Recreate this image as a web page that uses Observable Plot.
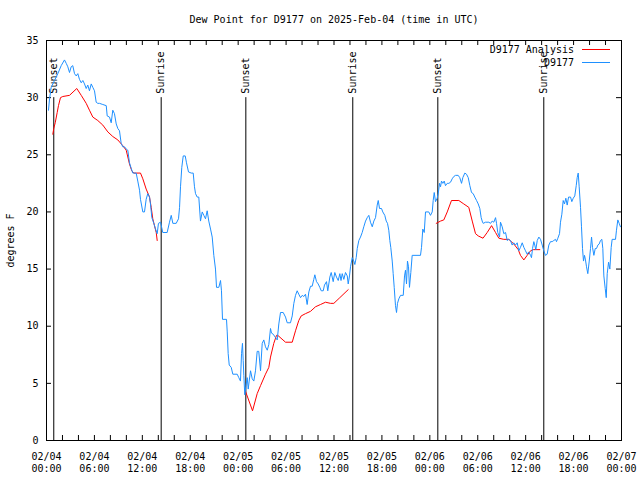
<!DOCTYPE html>
<html><head><meta charset="utf-8">
<script src="https://cdn.jsdelivr.net/npm/d3@7"></script>
<script src="https://cdn.jsdelivr.net/npm/@observablehq/plot@0.6"></script>
<style>body{margin:0;background:#fff}</style>
</head><body><div id="chart"></div>
<script>
// ---- data ----
const chartTitle = "Dew Point for D9177 on 2025-Feb-04 (time in UTC)";
const yLabel = "degrees F";
const seriesNames = ["D9177 Analysis", "D9177"];
const startUTC = Date.UTC(2025, 1, 4, 0, 0);
const spanHours = 72;
const yTickValues = [0, 5, 10, 15, 20, 25, 30, 35];
const sunHours = [0.91, 14.36, 24.96, 38.35, 49.00, 62.27];
const sunLabels = ["Sunset", "Sunrise", "Sunset", "Sunrise", "Sunset", "Sunrise"];
const sunLineTop = 30;

// observations (hours since 02/04 00:00 UTC, deg F)
const obsHours = [
0.25,0.38,0.59,1.00,1.42,1.84,2.25,2.47,2.67,2.88,
3.09,3.29,3.51,3.72,3.92,4.13,4.35,4.55,4.76,4.97,
5.17,5.38,5.60,5.80,6.01,6.22,6.42,6.64,7.05,7.48,
7.60,7.89,8.10,8.30,8.51,8.73,8.93,9.14,9.35,9.55,
9.77,9.98,10.18,10.39,10.61,10.81,11.23,11.43,11.65,11.77,
12.06,12.27,12.48,12.68,12.90,13.02,13.19,13.44,13.65,13.86,
14.02,14.28,14.56,15.11,15.40,15.62,15.82,16.24,16.53,16.66,
16.78,16.94,17.12,17.37,17.53,17.78,18.12,18.37,18.53,18.66,
18.87,19.07,19.28,19.50,19.70,19.91,20.12,20.32,20.54,20.75,
20.95,21.16,21.29,21.58,21.79,21.91,22.04,22.54,22.63,22.75,
22.88,23.13,23.33,23.88,24.08,24.29,24.42,24.54,24.63,24.71,
24.83,24.96,25.13,25.26,25.38,25.55,25.76,25.96,26.17,26.38,
26.58,26.80,27.01,27.21,27.42,27.64,27.84,28.05,28.17,28.39,
28.68,28.89,29.09,29.30,29.64,29.93,30.14,30.55,30.77,30.97,
31.18,31.39,31.59,31.81,32.02,32.22,32.43,32.64,32.85,33.06,
33.27,33.47,33.60,33.81,34.02,34.22,34.40,34.65,34.81,35.06,
35.22,35.48,35.65,35.90,36.10,36.31,36.53,36.73,36.88,37.03,
37.23,37.44,37.66,37.78,37.94,38.07,38.28,38.48,38.61,38.78,
38.91,39.11,39.32,39.53,39.73,39.95,40.16,40.36,40.57,40.79,
40.99,41.20,41.41,41.54,41.70,41.95,42.11,42.36,42.54,42.70,
42.86,42.99,43.11,43.29,43.41,43.54,43.70,43.83,43.95,44.12,
44.33,44.67,44.83,44.95,45.08,45.20,45.33,45.45,45.62,45.79,
46.83,46.96,47.12,47.30,47.46,47.87,48.08,48.30,48.42,48.55,
48.71,48.92,49.05,49.21,49.34,49.46,49.63,49.80,49.96,50.18,
50.38,50.59,50.80,51.00,51.22,51.55,51.75,51.97,52.13,52.38,
52.59,52.81,53.01,53.22,53.43,53.63,53.85,54.06,54.26,54.43,
54.60,54.68,54.97,55.39,55.60,55.81,56.01,56.23,56.35,56.51,
56.73,56.85,57.06,57.26,57.48,57.69,57.89,58.10,58.31,58.51,
58.73,58.94,59.14,59.35,59.57,59.77,59.98,60.19,60.39,60.61,
60.73,60.86,61.02,61.14,61.27,61.45,61.65,61.86,62.07,62.27,
62.48,62.69,62.90,63.11,63.32,63.52,63.74,63.86,64.03,64.24,
64.36,64.53,64.70,64.86,65.03,65.20,65.37,65.62,65.78,65.96,
66.15,66.33,66.45,66.58,66.70,66.87,66.99,67.12,67.24,67.37,
67.49,67.62,67.78,67.96,68.12,68.25,68.37,68.54,68.71,68.87,
69.04,69.21,69.37,69.54,69.66,69.79,69.96,70.09,70.21,70.38,
70.54,70.71,70.83,71.25,71.37,71.54,71.71,71.87];
const obsValues = [
28.9,29.9,30.9,31.5,32.1,32.8,33.3,33.0,32.7,32.2,
32.7,32.8,32.1,31.9,32.1,31.6,31.3,31.5,31.2,30.8,
31.1,30.6,31.2,30.9,30.6,29.6,29.5,29.5,29.4,29.3,
28.4,28.3,27.8,28.9,28.6,27.7,27.3,27.1,26.0,25.7,
25.7,25.5,25.4,24.3,23.8,23.4,23.4,22.7,21.9,21.1,
20.0,20.0,21.1,21.6,21.3,20.7,19.5,19.0,18.5,18.1,
19.0,19.1,18.2,18.2,19.1,19.7,19.0,19.0,19.4,20.4,
22.2,23.9,24.9,24.9,24.3,23.5,23.4,23.4,22.2,21.6,
21.3,21.3,19.2,20.0,19.7,19.4,20.1,19.2,18.5,17.8,
16.2,15.0,13.4,13.4,14.0,13.1,10.6,10.6,9.5,7.6,
6.6,6.4,5.8,5.8,5.5,5.2,7.6,8.5,7.0,5.7,
4.0,4.7,5.5,4.5,5.2,6.1,5.4,5.2,6.1,7.8,
7.8,6.1,8.5,8.8,8.2,7.9,8.4,9.8,9.4,9.3,
9.0,8.8,10.2,11.2,11.2,10.8,10.3,10.3,10.9,12.0,
12.7,13.1,12.8,12.5,12.7,12.6,12.8,11.9,13.0,13.5,
13.5,14.1,14.5,13.9,13.7,13.4,13.1,13.1,13.6,13.9,
13.1,14.3,14.7,13.9,14.7,14.3,14.0,14.6,14.0,14.6,
14.1,14.7,14.4,13.7,14.4,15.2,16.0,15.7,15.4,16.0,
16.8,17.5,17.8,18.2,18.7,19.2,19.5,19.7,19.1,18.7,
19.2,19.5,20.6,21.0,20.3,20.3,20.0,19.7,19.2,19.0,
18.4,17.5,16.9,15.7,14.6,13.4,11.8,11.2,12.0,12.4,
12.7,12.7,14.4,14.9,13.7,15.7,15.2,13.4,14.7,16.2,
16.2,16.9,18.5,18.2,20.0,20.0,19.7,20.0,21.0,21.7,
20.9,21.2,21.6,22.5,22.2,22.7,22.5,22.7,22.3,22.5,
22.5,22.6,22.9,23.1,23.2,23.2,23.0,22.5,23.0,23.4,
23.3,23.0,22.3,21.7,21.6,21.3,21.0,20.7,20.3,19.5,
19.1,19.0,19.1,19.1,19.0,19.2,19.1,19.5,19.0,18.2,
17.8,19.1,18.7,18.1,18.2,17.5,17.6,17.5,17.1,17.3,
17.1,17.3,16.6,16.9,17.3,16.9,16.6,16.3,16.5,16.2,
16.0,16.8,17.4,17.1,16.7,17.5,17.8,17.6,17.1,16.6,
16.2,16.3,17.1,17.4,17.4,17.5,17.6,17.4,17.7,18.1,
19.1,19.8,21.0,20.7,21.2,20.6,21.3,21.3,20.9,21.2,
21.4,22.3,23.0,23.4,22.2,20.4,18.7,16.8,15.7,16.2,
15.8,15.2,14.6,15.7,16.8,17.8,16.9,16.2,16.8,16.8,
17.1,17.2,17.5,17.6,16.8,14.4,13.3,12.5,14.6,15.6,
15.0,16.9,17.6,17.6,18.4,19.3,19.0,18.7];

// analysis (null = gap)
const anaHours = [
0.79,0.91,1.09,1.34,1.50,1.75,2.04,2.88,3.79,4.35,4.97,5.38,5.80,6.42,7.05,7.68,
8.30,8.93,9.55,9.98,10.39,10.68,10.93,11.77,12.06,12.48,12.90,13.11,13.31,13.52,13.74,13.86,
null,
24.92,25.80,26.38,26.80,27.42,27.84,28.05,28.46,28.80,28.96,29.93,30.77,
31.18,31.59,31.89,32.43,33.06,33.68,34.31,34.94,35.56,35.98,36.73,37.78,
null,
48.80,49.34,49.75,50.18,50.71,51.63,52.25,52.88,53.31,53.72,54.06,54.66,55.18,
55.73,56.23,56.64,57.26,57.89,58.51,59.07,59.35,59.77,60.19,60.61,60.95,61.77];
const anaValues = [
26.8,27.3,27.8,28.7,29.3,30.0,30.1,30.2,30.8,30.2,29.5,28.9,28.3,28.0,27.6,27.0,
26.6,26.3,25.8,25.4,24.2,23.6,23.4,23.4,22.9,22.0,21.3,20.4,19.4,18.8,18.2,17.5,
null,
4.3,2.6,4.1,4.8,5.8,6.4,7.3,8.5,9.2,9.2,8.6,8.6,
9.6,10.5,10.9,11.1,11.3,11.7,11.9,12.1,12.0,12.0,12.5,13.2,
null,
19.0,19.2,19.3,20.0,21.0,21.0,20.7,20.4,19.2,18.1,17.9,17.7,18.2,
18.8,18.2,17.7,17.6,17.6,17.2,16.7,16.2,15.8,16.2,16.6,16.7,16.7];

// ---- build ----
const toDate = h => new Date(startUTC + h * 3600000);
const obs = obsHours.map((h, i) => ({t: toDate(h), v: obsValues[i]}));
const ana = anaHours.map((h, i) => ({t: h == null ? null : toDate(h), v: anaValues[i]}));
const sun = sunHours.map((h, i) => ({t: toDate(h), label: sunLabels[i]}));
const minorTicks = d3.range(0, spanHours + 1, 2).map(toDate);
const majorTicks = d3.range(0, spanHours + 1, 6).map(toDate);
const fmt = d3.utcFormat("%m/%d\n%H:%M");
const obsColor = "#1e90ff", anaColor = "#ff0000";

const W = 640, H = 480, mL = 46, mR = 19, mT = 40, mB = 40;
const fw = W - mL - mR, fh = H - mT - mB, tk = 5;

const plot = Plot.plot({
  width: W, height: H,
  marginLeft: mL, marginRight: mR, marginTop: mT, marginBottom: mB,
  style: {fontFamily: "'DejaVu Sans Mono', monospace", fontSize: "10px", background: "#fff", color: "#000", overflow: "visible"},
  x: {type: "utc", domain: [toDate(0), toDate(spanHours)], axis: null},
  y: {domain: [0, 35], axis: null},
  marks: [
    Plot.ruleX(minorTicks, {x: d => d, insetTop: fh - tk, stroke: "#000"}),
    Plot.ruleX(minorTicks, {x: d => d, insetBottom: fh - tk, stroke: "#000"}),
    Plot.ruleY(yTickValues, {y: d => d, insetRight: fw - tk, stroke: "#000"}),
    Plot.ruleY(yTickValues, {y: d => d, insetLeft: fw - tk, stroke: "#000"}),
    Plot.text(majorTicks, {x: d => d, frameAnchor: "bottom", dy: 11, lineAnchor: "top", lineHeight: 1.2, text: d => fmt(d), fill: "#000"}),
    Plot.text(yTickValues, {y: d => d, frameAnchor: "left", dx: -8, textAnchor: "end", text: d => String(d), fill: "#000"}),
    Plot.ruleX(sun, {x: "t", y1: 0, y2: sunLineTop, stroke: "#000"}),
    Plot.text(sun, {x: "t", y: sunLineTop, text: "label", rotate: -90, textAnchor: "start", lineAnchor: "middle", dy: -4, fill: "#000"}),
    Plot.line(ana, {x: "t", y: "v", stroke: anaColor, strokeWidth: 1}),
    Plot.line(obs, {x: "t", y: "v", stroke: obsColor, strokeWidth: 1}),
    Plot.frame({stroke: "#000"}),
    Plot.text([chartTitle], {frameAnchor: "top", dy: -21, text: d => d, lineAnchor: "middle", fill: "#000"}),
    Plot.text([yLabel], {frameAnchor: "left", dx: -36, rotate: -90, text: d => d, lineAnchor: "middle", textAnchor: "middle", fill: "#000"})
  ]
});

// legend (top-right, inside frame)
const svgSel = d3.select(plot);
const xRange = plot.scale("x").range, yRange = plot.scale("y").range;
const frameRight = xRange[1], frameTop = Math.min(yRange[0], yRange[1]);
const lg = svgSel.append("g");
[anaColor, obsColor].forEach((c, i) => {
  const cy = frameTop + 10 + i * 13;
  lg.append("text").attr("x", frameRight - 47).attr("y", cy).attr("dy", "0.32em")
    .attr("text-anchor", "end").attr("fill", "#000").text(seriesNames[i]);
  lg.append("line").attr("x1", frameRight - 39).attr("x2", frameRight - 11)
    .attr("y1", cy - 0.5).attr("y2", cy - 0.5).attr("stroke", c).attr("stroke-width", 1);
});
document.getElementById("chart").appendChild(plot);
</script>
</body></html>
